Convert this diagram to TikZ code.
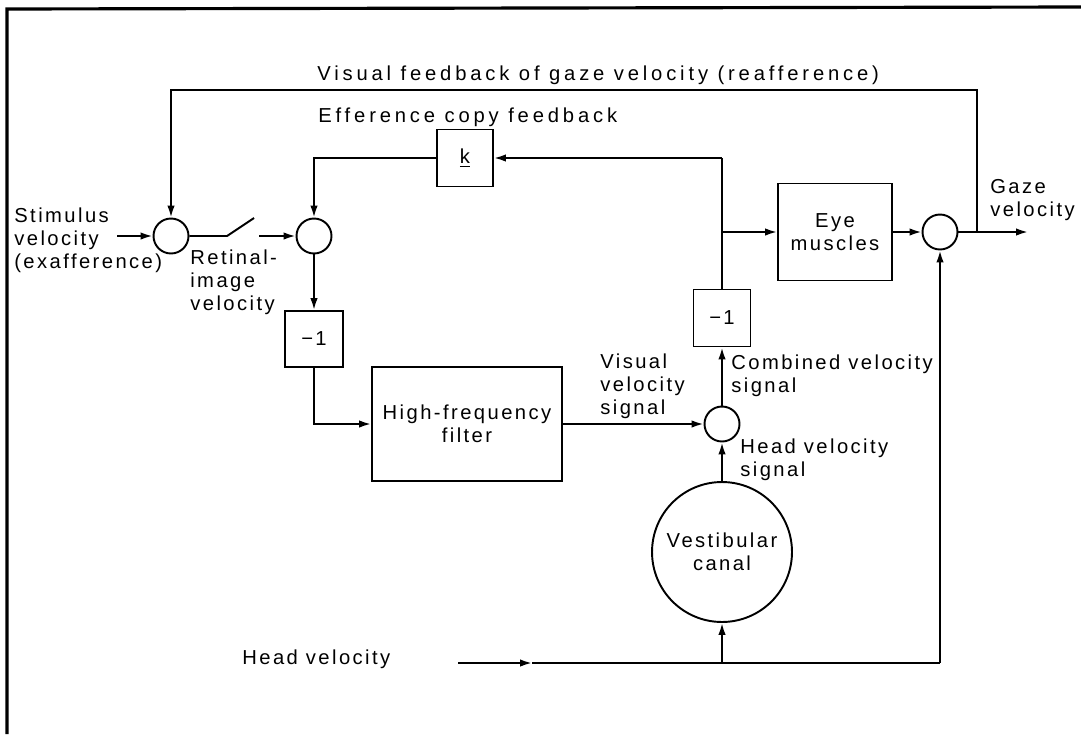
\documentclass[tikz,border=0pt]{standalone}
\usepackage{fontspec}
\setmainfont{Liberation Sans}[LetterSpace=12]
\usetikzlibrary{arrows.meta,positioning,calc}

\begin{document}
\begin{tikzpicture}[x=0.02cm,y=-0.02cm,
    font=\fontsize{11.5}{13}\selectfont,
    sig/.style={line width=1.1pt},
    sumnode/.style={draw,circle,line width=1.1pt,minimum size=0.7cm,inner sep=0pt},
    blk/.style={draw,rectangle,line width=1.1pt,inner sep=0pt,align=center},
    lbl/.style={inner sep=0pt,anchor=west,align=left},
    widelbl/.style={lbl,font=\fontsize{11.5}{13}\selectfont\addfontfeature{LetterSpace=19}},
    >={Latex[length=2.4mm,width=1.5mm]}]
        \useasboundingbox (0,0) rectangle (1081,734);
        \draw[line width=1.8pt] (7,734) -- (7,9) -- (1081,7); % frame

        % summing points
        \node[sumnode] (sumA) at (171,236) {};
        \node[sumnode] (sumB) at (314,236) {};
        \node[sumnode] (sumC) at (940,232) {};
        \node[sumnode] (sumD) at (722,424) {};

        % blocks
        \node[blk,minimum width=1.12cm,minimum height=1.14cm] (kbox) at (465,158) {\underline{k}};
        \node[blk,minimum width=1.16cm,minimum height=1.12cm] (negA) at (314,339) {−1};
        \node[blk,minimum width=1.14cm,minimum height=1.14cm] (negB) at (722,318) {−1};
        \node[blk,minimum width=3.8cm,minimum height=2.28cm] (filter) at (467,424) {High-frequency\\filter};
        \node[blk,minimum width=2.28cm,minimum height=1.94cm] (eye) at (835,232) {Eye\\muscles};
        \node[draw,circle,line width=1.1pt,minimum size=2.8cm,inner sep=0pt,align=center] (canal) at (722,552) {Vestibular\\canal};

        % free ends and corners
        \coordinate (stimIn) at (117,236);
        \coordinate (swA) at (227,236);
        \coordinate (swB) at (254,218);
        \coordinate (swC) at (259,236);
        \coordinate (efTap) at (722,158);
        \coordinate (eyeTap) at (722,232);
        \coordinate (fbTap) at (977,232);
        \coordinate (fbR) at (977,90);
        \coordinate (gazeOut) at (1028,232);
        \coordinate (headIn) at (458,663);
        \coordinate (headArr) at (532,663);
        \coordinate (headMid) at (722,663);
        \coordinate (headR) at (940,663);

        % retinal slip path
        \draw[sig,->] (stimIn) -- (sumA.west);
        \draw[sig] (sumA.east) -- (swA) -- (swB); % switch
        \draw[sig,->] (swC) -- (sumB.west);
        \draw[sig,->] (sumB.south) -- (negA.north);
        \draw[sig,->] (negA.south) |- (filter.west);
        \draw[sig,->] (filter.east) -- (sumD.west);
        \draw[sig,->] (sumD.north) -- (negB.south);
        \draw[sig] (negB.north) -- (efTap);
        \draw[sig,->] (efTap) -- (kbox.east);
        \draw[sig,->] (kbox.west) -| (sumB.north);
        \draw[sig,->] (eyeTap) -- (eye.west);
        \draw[sig,->] (eye.east) -- (sumC.west);
        \draw[sig,->] (sumC.east) -- (gazeOut);
        \draw[sig,->] (fbTap) -- (fbR) -| (sumA.north); % reafference loop

        % head velocity path
        \draw[sig,->] (headIn) -- (headArr);
        \draw[sig] (headArr) -- (headR);
        \draw[sig,->] (headR) -- (sumC.south);
        \draw[sig,->] (headMid) -- (canal.south);
        \draw[sig,->] (canal.north) -- (sumD.south);

        % labels
        \node[widelbl] (fbText) at (317,75) {Visual feedback of gaze velocity (reafference)};
        \node[widelbl] (efText) at (318,117) {Efference copy feedback};
        \node[lbl] (stimText) at (14,240) {Stimulus\\velocity\\(exafference)};
        \node[lbl] (retText) at (190,282) {Retinal-\\image\\velocity};
        \node[lbl] (gazeText) at (990,200) {Gaze\\velocity};
        \node[lbl] (visText) at (600,386) {Visual\\velocity\\signal};
        \node[lbl] (combText) at (731,376) {Combined velocity\\signal};
        \node[lbl] (hvsText) at (740,460) {Head velocity\\signal};
        \node[lbl] (headText) at (242,659) {Head velocity};
    \end{tikzpicture}
\end{document}
